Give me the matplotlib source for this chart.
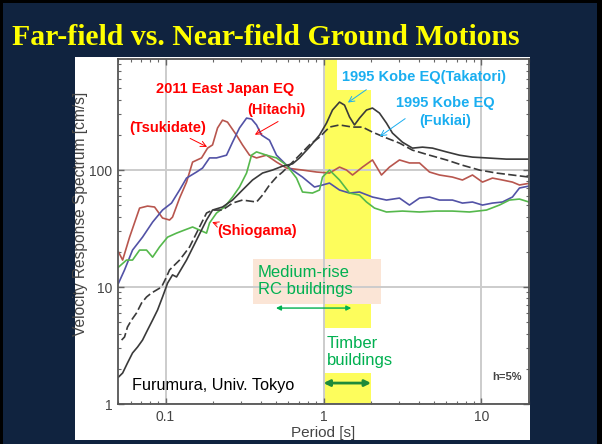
import matplotlib
matplotlib.use('Agg')
import matplotlib.pyplot as plt
from matplotlib.patches import Rectangle

plt.rcParams['font.family'] = ['Liberation Sans', 'DejaVu Sans']

# Tsukidate (2011 East Japan EQ)
t_tsu = [0.0504, 0.0535, 0.0592, 0.0685, 0.0769, 0.0852, 0.0957, 0.106, 0.1107, 0.1227,
         0.1358, 0.1483, 0.169, 0.1845, 0.1984, 0.2134, 0.2294, 0.2467, 0.2812, 0.307,
         0.3403, 0.3767, 0.4359, 0.5041, 0.5835, 0.7362, 0.9034, 1.091, 1.263, 1.399,
         1.527, 1.766, 2.042, 2.328, 2.616, 3.027, 3.501, 4.053, 4.688, 5.423,
         6.551, 7.58, 8.773, 10.15, 11.74, 13.58, 15.71, 17.4, 20.0]
v_tsu = [19.9, 17.0, 26.7, 47.3, 49.2, 48.3, 38.9, 37.4, 39.6, 57.6,
         78.9, 117, 127, 154, 164, 229, 267, 257, 199, 164,
         134, 127, 134, 117, 104, 100, 96.2, 94.3, 106, 100,
         90.7, 106, 122, 90.7, 106, 122, 115, 115, 96.2, 90.7,
         87.1, 82.2, 90.7, 78.9, 85.4, 82.2, 78.9, 74.5, 77.0]

# Hitachi
t_hit = [0.0504, 0.055, 0.0618, 0.0715, 0.0828, 0.0957, 0.1091, 0.1227, 0.1358, 0.1571,
         0.1715, 0.1899, 0.2102, 0.2432, 0.2655, 0.2938, 0.3258, 0.3502, 0.3767, 0.4054,
         0.455, 0.5041, 0.6095, 0.7362, 0.877, 0.9856, 1.091, 1.263, 1.462, 1.69,
         2.042, 2.504, 3.027, 3.501, 4.053, 4.688, 5.423, 6.551, 7.58, 8.773,
         10.15, 11.74, 13.58, 15.71, 17.4, 20.0]
v_hit = [10.8, 14.0, 20.7, 26.7, 35.9, 45.5, 52.2, 67.5, 85.4, 96.2,
         104, 127, 127, 134, 173, 229, 278, 273, 243, 199,
         180, 134, 104, 87.1, 71.6, 74.5, 77.4, 67.5, 63.6, 64.9,
         58.8, 55.4, 57.6, 50.2, 57.6, 58.8, 55.4, 55.4, 52.2, 53.3,
         50.2, 52.2, 53.3, 58.8, 70.2, 73.0]

# Shiogama
t_shi = [0.0504, 0.0566, 0.0618, 0.0685, 0.0758, 0.0828, 0.0916, 0.103, 0.1174, 0.1318,
         0.1483, 0.1641, 0.1817, 0.1899, 0.2102, 0.2362, 0.2655, 0.2938, 0.3258, 0.3502,
         0.3767, 0.4359, 0.5041, 0.5835, 0.6745, 0.7362, 0.8514, 0.9434, 0.9856, 1.091,
         1.263, 1.462, 1.69, 1.872, 2.103, 2.504, 3.162, 4.053, 5.19, 6.551,
         8.397, 10.76, 13.0, 15.04, 17.4, 20.0]
v_shi = [14.8, 17.0, 17.0, 20.7, 20.7, 18.0, 22.0, 26.7, 28.9, 30.7,
         32.6, 30.7, 28.9, 35.3, 42.9, 48.3, 58.8, 71.6, 94.3, 134,
         143, 134, 127, 110, 85.4, 64.9, 63.6, 67.5, 87.1, 100,
         82.2, 63.6, 61.1, 53.3, 47.3, 43.8, 44.6, 43.8, 44.6, 44.6,
         43.8, 45.5, 50.2, 55.4, 56.5, 53.3]

# Takatori (1995 Kobe EQ), solid
t_tak = [0.0504, 0.0535, 0.0574, 0.0618, 0.0665, 0.0715, 0.0769, 0.0828, 0.089, 0.0957,
         0.103, 0.1107, 0.1174, 0.1358, 0.1571, 0.1817, 0.1984, 0.2294, 0.2655, 0.307,
         0.3554, 0.4113, 0.4755, 0.5505, 0.6368, 0.7047, 0.8149, 0.9434, 1.045, 1.14,
         1.263, 1.359, 1.462, 1.571, 1.69, 1.872, 2.042, 2.261, 2.504, 2.733,
         3.162, 3.657, 4.235, 4.898, 6.0, 7.255, 8.773, 10.76, 14.39, 20.0]
v_tak = [1.70, 1.84, 2.24, 2.73, 3.07, 3.52, 4.29, 5.22, 6.36, 8.22,
         10.8, 12.7, 12.2, 17.0, 25.2, 37.4, 45.5, 48.3, 55.4, 67.5,
         82.2, 94.3, 100, 108, 113, 127, 157, 199, 252, 326,
         381, 359, 284, 243, 278, 326, 339, 307, 252, 207,
         173, 154, 157, 154, 143, 134, 129, 127, 124, 124]

# Fukiai (1995 Kobe EQ), dashed
t_fuk = [0.0527, 0.055, 0.0574, 0.0609, 0.0655, 0.0705, 0.0758, 0.0815, 0.0877, 0.0943,
         0.1014, 0.106, 0.1227, 0.1419, 0.1641, 0.1817, 0.1984, 0.2294, 0.2655, 0.307,
         0.3767, 0.4113, 0.455, 0.5041, 0.5505, 0.6095, 0.7047, 0.8149, 0.9434, 1.091,
         1.263, 1.527, 1.766, 2.042, 2.504, 3.027, 3.657, 4.688, 6.0, 7.58,
         9.712, 12.44, 15.71, 20.0]
v_fuk = [3.52, 3.74, 4.55, 5.22, 6.0, 7.30, 8.22, 8.89, 9.43, 10.0,
         12.2, 14.0, 17.0, 22.0, 32.6, 42.9, 45.5, 45.5, 52.2, 55.4,
         53.3, 61.1, 74.5, 87.1, 96.2, 110, 134, 164, 191, 233,
         243, 233, 233, 211, 188, 170, 148, 134, 122, 110,
         100, 94.3, 90.7, 87.1]

band = (1.0, 2.0)            # yellow period band [s]
rc_range = (0.5, 1.5)        # medium-rise RC buildings
timber_range = (1.0, 2.0)    # timber buildings

W, H = 602, 444
NAVY = '#10233f'


def fx(x):
    return x / W


def fy(y):
    return 1 - y / H


def frect(x0, y0, x1, y1, **kw):
    # rectangle in pixel coords (top-left origin)
    return Rectangle((fx(x0), fy(y1)), (x1 - x0) / W, (y1 - y0) / H, **kw)


fig = plt.figure(figsize=(W / 100, H / 100), dpi=100)
fig.patch.set_facecolor(NAVY)
for r in [(0, 0, 602, 3), (0, 0, 3, 444), (597, 0, 602, 444)]:
    fig.add_artist(frect(*r, transform=fig.transFigure, facecolor='black', edgecolor='none', zorder=-2))
fig.add_artist(frect(75, 57, 530, 440, transform=fig.transFigure, facecolor='white', edgecolor='none', zorder=-1))

fig.text(fx(12), fy(45), 'Far-field vs. Near-field Ground Motions', color='#ffff00', fontsize=21.4,
         fontweight='bold', family='Liberation Serif', va='baseline')

ax = fig.add_axes([fx(118), fy(404), (529 - 118) / W, (404 - 59) / H])
ax.set_facecolor('white')
ax.set_xscale('log'); ax.set_yscale('log')
ax.set_xlim(0.05, 20); ax.set_ylim(1, 890)
ax.set_xticks([0.1, 1, 10]); ax.set_xticklabels(['0.1', '1', '10'])
ax.set_yticks([1, 10, 100]); ax.set_yticklabels(['1', '10', '100'])
ax.tick_params(which='both', direction='in', top=True, right=True, color='#666', labelcolor='#444', labelsize=10)
ax.tick_params(which='major', length=4, width=1, pad=4)
ax.tick_params(which='minor', length=2.5, width=0.8)
ax.set_axisbelow(True)
ax.grid(True, which='major', color='#cccccc', lw=1.4)
for s in ax.spines.values():
    s.set_color('#555'); s.set_linewidth(1.3)
ax.set_xlabel('Period [s]', fontsize=11, color='#444')
ax.xaxis.set_label_coords(0.5, -0.065)
ax.set_ylabel('Velocity Response Spectrum [cm/s]', fontsize=11.2, color='#444')
ax.yaxis.set_label_coords(-0.073, 0.551)

ax.axvspan(*band, color='#fdfd5c', zorder=0.3, lw=0)
# label boxes covering the band
ax.add_patch(frect(337, 59, 529, 90, transform=fig.transFigure, facecolor='white', edgecolor='none', zorder=0.4))
ax.add_patch(frect(323, 328, 392, 373, transform=fig.transFigure, facecolor='white', edgecolor='none', zorder=0.4))
ax.add_patch(frect(253, 259, 381, 304, transform=fig.transFigure, facecolor='#fbe5d6', edgecolor='none', zorder=0.45))

ax.plot(t_tsu, v_tsu, color='#b8564e', lw=1.2)
ax.plot(t_hit, v_hit, color='#5252a6', lw=1.2)
ax.plot(t_shi, v_shi, color='#55b84c', lw=1.2)
ax.plot(t_tak, v_tak, color='#3a3a3a', lw=1.2)
ax.plot(t_fuk, v_fuk, color='#3a3a3a', lw=1.2, ls=(0, (5, 2)))

red = dict(color='#ff0000', fontsize=10.5, fontweight='bold', ha='center', va='center')
ax.text(0.240, 492, '2011 East Japan EQ', **red)
ax.text(0.504, 326, '(Hitachi)', **red)
ax.text(0.103, 229, '(Tsukidate)', **red)
ax.text(0.382, 30.1, '(Shiogama)', **red)
rarrow = dict(arrowstyle='->', color='#ff0000', lw=0.7)
ax.annotate('', xy=(0.190, 154), xytext=(0.138, 191), arrowprops=rarrow)
ax.annotate('', xy=(0.355, 195), xytext=(0.534, 267), arrowprops=rarrow)
ax.annotate('', xy=(0.190, 36.6), xytext=(0.2197, 33.9), arrowprops=rarrow)

cyan = dict(color='#1aaef0', fontsize=10.5, fontweight='bold', ha='center', va='center')
ax.text(4.30, 624, '1995 Kobe EQ(Takatori)', **cyan)
ax.text(5.92, 313, '1995 Kobe EQ\n(Fukiai)', linespacing=1.3, **cyan)
carrow = dict(arrowstyle='->', color='#1aaef0', lw=0.7)
ax.annotate('', xy=(1.38, 366), xytext=(1.93, 502), arrowprops=carrow)
ax.annotate('', xy=(2.20, 188), xytext=(3.40, 284), arrowprops=carrow)

green = dict(color='#00b050', fontsize=12, ha='left', va='center', linespacing=1.15)
fig.text(fx(258), fy(281), 'Medium-rise\nRC buildings', **green)
fig.text(fx(327), fy(352), 'Timber\nbuildings', **green)
ax.annotate('', xy=(rc_range[1], 6.61), xytext=(rc_range[0], 6.61),
            arrowprops=dict(arrowstyle='<|-|>', color='#00b050', lw=1, mutation_scale=7,
                            shrinkA=0, shrinkB=0))
ax.annotate('', xy=(timber_range[1], 1.51), xytext=(timber_range[0], 1.51),
            arrowprops=dict(arrowstyle='<|-|>', color='#1e8a3a', lw=2, mutation_scale=9,
                            shrinkA=0, shrinkB=0))

fig.text(fx(132), fy(385), 'Furumura, Univ. Tokyo', color='black', fontsize=11.7, va='center')
fig.text(fx(492), fy(377), 'h=5%', color='#444', fontsize=8, fontweight='bold', va='center')

fig.savefig('out.png', dpi=100, facecolor=NAVY)
